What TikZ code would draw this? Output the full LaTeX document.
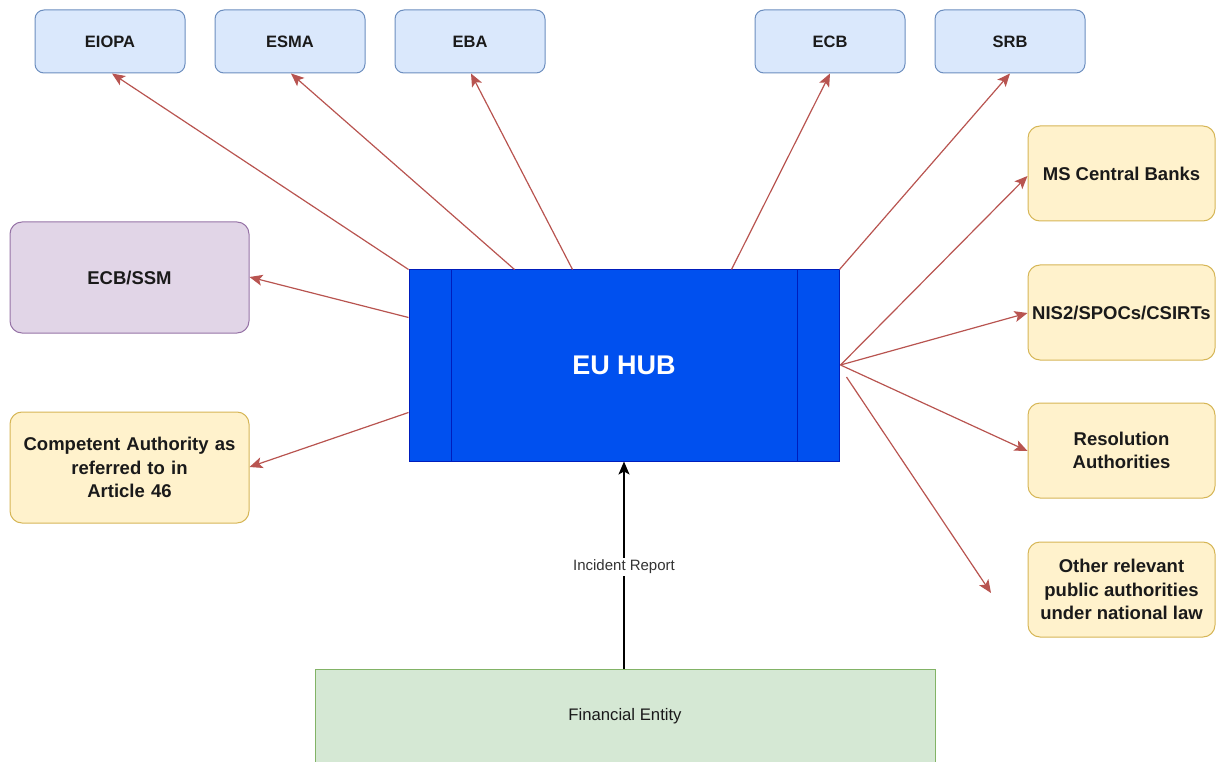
\documentclass[tikz,border=0pt]{standalone}
\usepackage{fontspec}
\setmainfont{Liberation Sans}
\usetikzlibrary{arrows.meta,calc}
\definecolor{bluefill}{HTML}{DAE8FC}
\definecolor{bluedraw}{HTML}{6C8EBF}
\definecolor{purfill}{HTML}{E1D5E7}
\definecolor{purdraw}{HTML}{9673A6}
\definecolor{yelfill}{HTML}{FFF2CC}
\definecolor{yeldraw}{HTML}{D6B656}
\definecolor{grnfill}{HTML}{D5E8D4}
\definecolor{grndraw}{HTML}{82B366}
\definecolor{hubfill}{HTML}{0050EF}
\definecolor{hubdraw}{HTML}{001DBC}
\definecolor{redline}{HTML}{B85450}
\definecolor{txt}{HTML}{1A1A1A}
\tikzset{
  topbox/.style={draw=bluedraw, fill=bluefill, line width=1pt, rounded corners=9pt,
    minimum width=150pt, minimum height=63pt, inner sep=0pt, text=txt,
    font=\fontsize{16.5}{19}\selectfont\bfseries},
  sidebox/.style={draw=yeldraw, fill=yelfill, line width=1pt, rounded corners=12pt,
    inner sep=0pt, text=txt, align=center,
    font=\fontsize{18.5}{23.5}\selectfont\bfseries},
  redarrow/.style={draw=redline, line width=1.2pt, -{Stealth[length=13pt,width=11pt,inset=3pt]}},
  blackarrow/.style={draw=black, line width=1.2pt, -{Stealth[length=13pt,width=11pt,inset=3pt]}}
}
\begin{document}
\begin{tikzpicture}[x=1pt,y=-1pt]
\useasboundingbox (0,0) rectangle (1216,762);
\clip (0,0) rectangle (1216,762);
% top boxes
\node[topbox] (eiopa) at (110,41.5) {EIOPA};
\node[topbox] (esma) at (290,41.5) {ESMA};
\node[topbox] (eba) at (470,41.5) {EBA};
\node[topbox] (ecb) at (830,41.5) {ECB};
\node[topbox] (srb) at (1010,41.5) {SRB};
% left boxes
\node[sidebox, draw=purdraw, fill=purfill, minimum width=239pt, minimum height=111pt] (ssm) at (129.5,277.5) {ECB/SSM};
\node[sidebox, minimum width=239pt, minimum height=111pt, text width=235pt] (ca) at (129.5,467.5) {Competent Authority as\\referred to in\\Article 46};
% right boxes
\node[sidebox, minimum width=187pt, minimum height=95pt] (ms) at (1121.5,173.5) {MS Central Banks};
\node[sidebox, minimum width=187pt, minimum height=95pt] (nis) at (1121.5,312.5) {NIS2/SPOCs/CSIRTs};
\node[sidebox, minimum width=187pt, minimum height=95pt] (res) at (1121.5,450.5) {Resolution\\Authorities};
\node[sidebox, minimum width=187pt, minimum height=95pt] (oth) at (1121.5,589.5) {Other relevant\\public authorities\\under national law};
% hub
\node[draw=hubdraw, fill=hubfill, line width=1pt, minimum width=430pt, minimum height=191pt, inner sep=0pt,
  text=white, font=\fontsize{27}{32}\selectfont\bfseries] (hub) at (624,365.5) {EU HUB};
\draw[hubdraw, line width=1pt] ($(hub.north west)+(43,0)$) -- ($(hub.south west)+(43,0)$);
\draw[hubdraw, line width=1pt] ($(hub.north east)+(-42,0)$) -- ($(hub.south east)+(-42,0)$);
% financial entity
\node[draw=grndraw, fill=grnfill, line width=1pt, minimum width=620pt, minimum height=95pt, inner sep=0pt] (fe) at (625,716.5) {};
\node[text=txt, font=\fontsize{16.7}{20}\selectfont] (fetext) at (625,716) {Financial Entity};
% arrows
\draw[redarrow] (hub.north west) -- ($(eiopa.south)+(2,0)$);
\draw[redarrow] ($(hub.north west)+(106,0)$) -- ($(esma.south)+(1,0)$);
\draw[redarrow] ($(hub.north west)+(164,0)$) -- ($(eba.south)+(1,0)$);
\draw[redarrow] ($(hub.north west)+(323,0)$) -- (ecb.south);
\draw[redarrow] (hub.north east) -- (srb.south);
\draw[redarrow] ($(hub.north west)+(0,48)$) -- ($(ssm.east)+(0,-0.5)$);
\draw[redarrow] ($(hub.north west)+(0,143)$) -- ($(ca.east)+(0,-0.5)$);
\coordinate (hr) at ($(hub.east)+(1,-0.5)$);
\draw[redarrow] (hr) -- ($(ms.west)+(0,2.5)$);
\draw[redarrow] (hr) -- ($(nis.west)+(0,0.5)$);
\draw[redarrow] (hr) -- ($(res.west)+(0,0.5)$);
\coordinate (ostart) at ($(hub.east)+(7,11.5)$);
\coordinate (oend) at (991,593);
\draw[redarrow] (ostart) -- (oend);
\draw[blackarrow] (hub.south |- fe.north) -- node[fill=white, inner sep=2pt, text=black!80, font=\fontsize{15}{18}\selectfont, pos=0.49] (lbl) {Incident Report} (hub.south);
\end{tikzpicture}
\end{document}
